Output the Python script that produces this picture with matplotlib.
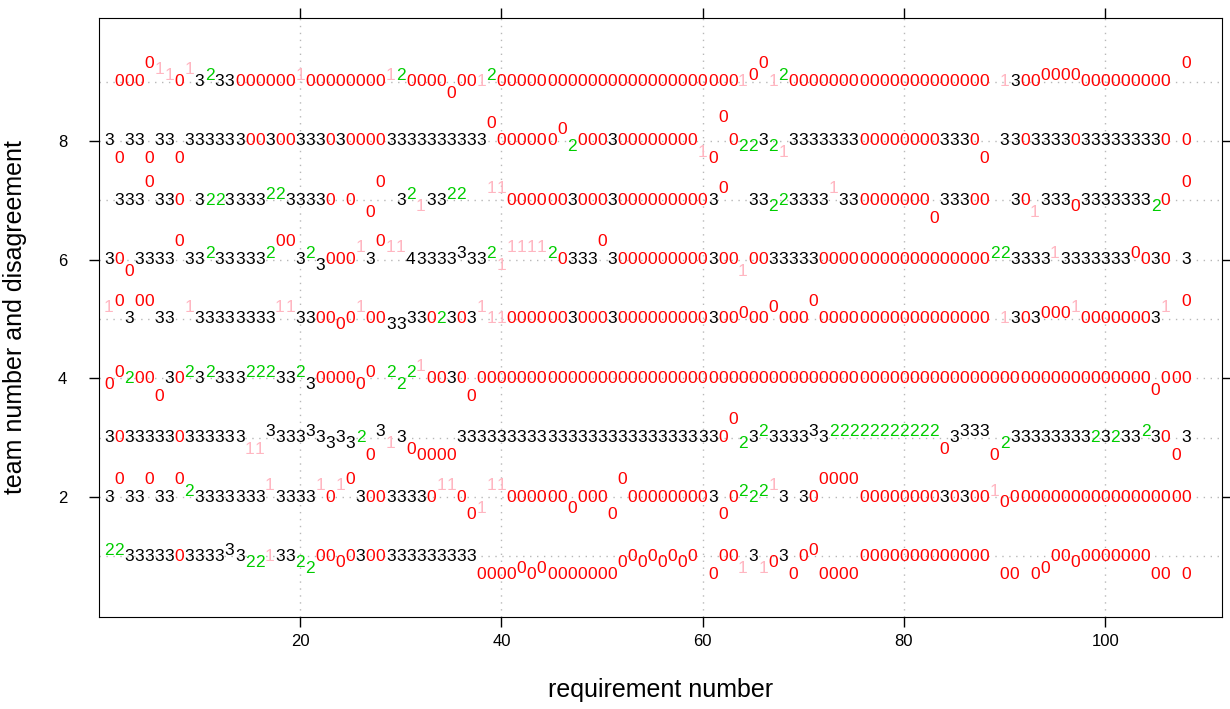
import matplotlib
matplotlib.use("Agg")
import matplotlib.pyplot as plt

# one string per team, position i -> requirement i+1, ' ' = missing
row9_vals = (" 000011013" "2330000001" "0000000012" "0000000120" "0000000000"
             "0000000000" "0001001200" "0000000000" "00000000 1" "3000000000" "000000 0")
row8_vals = ("3033033033" "3333003003" "3303000033" "3333333300" "0000002000"
             "3000000001" "0002232133" "3333300000" "00033300 3" "3033330333" "333330 0")
row7_vals = (" 3330330 3" "2233332233" "330 0 00 3" "213322  11" "0000003000"
             "3000000000" "30  332233" "3313300000" "00033300  " "3013330333" "333320 0")
row6_vals = ("3003333033" "2333332003" "2300013011" "4333333321" "1111203330"
             "3000000000" "3001003333" "3000000000" "0000000022" "3333133333" "330030 3")
row5_vals = ("1030033 13" "3333333113" "3000010033" "3302303111" "0000003000"
             "3000000000" "3000000000" "0000000000" "00000000 1" "3030001000" "000031 0")
row4_vals = ("0020003023" "2333222332" "3000000 22" "2100300000" "0000000000"
             "0000000000" "0000000000" "0000000000" "0000000000" "0000000000" "00000000")
row3_vals = ("3033333033" "3333113333" "3333320313" "0000033333" "3333333333"
             "3333333333" "3002323333" "3322222222" "2220333302" "3333333323" "23323003")
row2_vals = ("3033033023" "3333331333" "3101030033" "3301100111" "0000000000"
             "0000000000" "30022213 3" "0000000000" "0003030010" "0000000000" "00000000")
row1_vals = ("2233333033" "3333221332" "2000030033" "3333333000" "0000000000"
             "000000000 " "0001310300" "0000000000" "00000000 0" "0 00000000" "000000 0")

# disagreement shift of each character: '.' none, f/g/h/i up 1-4 tenths, d/c/b/a down 1-4 tenths
row9_lev = ("....hgf.g." "f........f" "........ff" "....c...f." ".........."
            ".........." "....fh.f.." ".........." ".........." "...ffff..." ".......h")
row8_lev = (".b..b..b.." ".........." ".........." "........h." ".....gd..."
            ".........c" "bi.dd.dc.." ".........." ".......b.." ".........." "........")
row7_lev = ("....h....." "......ff.." "......ch.." "fd..ff..gg" ".........."
            ".........." ".g....d..." "..g......." "..b......." "..c...d..." "....d..h")
row6_lev = ("..c....h.." "f.....fhh." "fd...g.hgg" ".....f..fd" "ggggf....h"
            ".........." "...c......" ".........." "........ff" "....f....." "..f.....")
row5_lev = ("gh.hh...g." ".......gg." "...d.g..dd" ".......g.." ".........."
            ".........." "...f..g..." "h........." ".........." "...fffg..." ".....g.h")
row4_lev = ("df...b..f." "f...fff..f" "d....df.fd" "fg....b..." ".........."
            ".........." ".........." ".........." ".........." ".........." "....c...")
row3_lev = (".........." "....ccf..." "f.d.d.bfd." "cbbbb....." ".........."
            ".........." "..hd.f...." "f.ffffffff" "fffc.fffbd" ".........." "...f..b.")
row2_lev = (".h..h..hf." "......g..." ".g.gh....." "...gg.bcgg" "......c..."
            "bh........" ".b.f.fg..." ".hhhh....." "........fd" ".........." "........")
row1_lev = ("ff........" "..f.dd...d" "c..d......" ".......bbb" "bcbcbbbbbb"
            "bd.d.d.d.." "b..c.cd.b." "fbbbb....." ".........b" "b.bc..d..." "....bb.b")

teams = [1, 2, 3, 4, 5, 6, 7, 8, 9]
team_vals = [row1_vals, row2_vals, row3_vals, row4_vals, row5_vals,
             row6_vals, row7_vals, row8_vals, row9_vals]
team_levs = [row1_lev, row2_lev, row3_lev, row4_lev, row5_lev,
             row6_lev, row7_lev, row8_lev, row9_lev]

shift = {'.': 0.0, 'f': 0.1, 'g': 0.2, 'h': 0.3, 'i': 0.4,
         'd': -0.1, 'c': -0.2, 'b': -0.3, 'a': -0.4}
colours = {'0': 'red', '1': '#FFB6C1', '2': '#00CD00', '3': 'black', '4': 'black'}

fig = plt.figure(figsize=(12.3, 7.09), dpi=100)
ax = fig.add_axes([0.0805, 0.1298, 0.913, 0.8448])
ax.set_xlim(0.02, 111.6)
ax.set_ylim(-0.02, 10.07)

for x in [20, 40, 60, 80, 100]:
    ax.axvline(x, color='#B8B8B8', ls=(0, (1, 4)), lw=1, zorder=0)
for t in teams:
    ax.axhline(t, color='#B8B8B8', ls=(0, (1, 4)), lw=1, zorder=0)

for t, vals, levs in zip(teams, team_vals, team_levs):
    for i, (v, l) in enumerate(zip(vals, levs)):
        if v == ' ':
            continue
        ax.text(i + 1, t + shift[l], v, ha='center', va='center', fontsize=12.5,
                color=colours[v], family='Liberation Sans')

ax.set_xticks([20, 40, 60, 80, 100])
ax.set_yticks([2, 4, 6, 8])
ax.tick_params(direction='out', length=7, top=True, right=True,
               labeltop=False, labelright=False, labelsize=12, width=1)
ax.tick_params(axis='y', pad=16)
ax.tick_params(axis='x', pad=5)
for lab in ax.get_xticklabels() + ax.get_yticklabels():
    lab.set_family('Liberation Sans')
ax.set_xlabel('requirement number', fontsize=18, family='Liberation Sans')
ax.set_ylabel('team number and disagreement', fontsize=18, family='Liberation Sans')
ax.xaxis.label.set_va('center')
ax.yaxis.label.set_va('center')
ax.xaxis.set_label_coords(0.5, -0.122)
ax.yaxis.set_label_coords(-0.075, 0.5)

fig.savefig('out.png', dpi=100)
